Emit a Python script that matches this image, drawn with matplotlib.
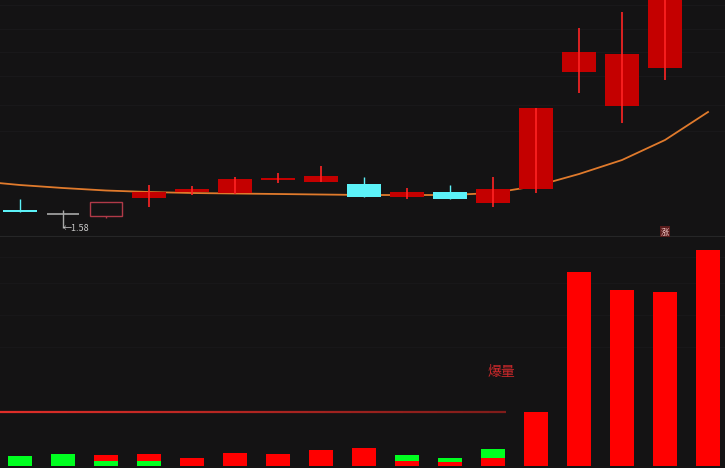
import numpy as np
import matplotlib.pyplot as plt
from matplotlib.collections import LineCollection

plt.rcParams['font.family'] = ['Noto Sans CJK SC', 'DejaVu Sans']

# daily candles (price, yuan)
opens  = [1.615, 1.608, 1.604, 1.640, 1.652, 1.650, 1.676, 1.672, 1.668, 1.642, 1.652, 1.630, 1.658, 1.892, 1.824, 1.900, 2.100]
closes = [1.613, 1.608, 1.632, 1.652, 1.658, 1.678, 1.680, 1.684, 1.642, 1.652, 1.638, 1.658, 1.820, 1.932, 1.928, 2.090, 2.300]
highs  = [1.638, 1.616, 1.632, 1.666, 1.664, 1.682, 1.690, 1.704, 1.682, 1.660, 1.666, 1.682, 1.820, 1.980, 2.012, 2.110, 2.310]
lows   = [1.613, 1.580, 1.600, 1.622, 1.646, 1.648, 1.670, 1.672, 1.642, 1.638, 1.638, 1.622, 1.650, 1.850, 1.790, 1.876, 2.080]
hollow = [2]

# moving average, first value belongs to the day before the window
ma = [1.674, 1.666, 1.660, 1.655, 1.652, 1.650, 1.649, 1.648, 1.647, 1.646, 1.646, 1.646, 1.650,
      1.664, 1.688, 1.716, 1.756, 1.812]

# volume (10k lots), split into red / green parts
vol_red   = [0, 0, 6, 7, 8, 13, 12, 16, 18, 5, 4, 8, 54, 194, 176, 174, 216]
vol_green = [10, 12, 5, 5, 0, 0, 0, 0, 0, 6, 4, 9, 0, 0, 0, 0, 0]
green_below = [True, True, True, True, True, True, True, True, True, False, False, False,
               True, True, True, True, True]
vol_level = 54
low_mark = 1.58

bg = '#141314'
red = '#c40000'
red_hi = '#ff2424'
cyan = '#5cf2f8'
gray = '#a8a8a8'

fig = plt.figure(figsize=(7.25, 4.68), dpi=100, facecolor=bg)
ax1 = fig.add_axes([0, 0.4957, 1, 0.5043])
ax2 = fig.add_axes([0, 0, 1, 0.4936])

for ax in (ax1, ax2):
    ax.set_facecolor(bg)
    ax.set_xlim(-0.465, 16.395)
    ax.set_xticks([])
    for s in ax.spines.values():
        s.set_visible(False)
    ax.tick_params(left=False, labelleft=False)

x = np.arange(len(opens))

# price panel
ax1.set_ylim(1.564, 2.036)
ax1.set_yticks([2.026, 1.978, 1.932, 1.884, 1.826, 1.774])
ax1.grid(axis='y', color='#19181a', lw=0.8)
ax1.spines['bottom'].set_visible(True)
ax1.spines['bottom'].set_color('#262627')

ax1.plot(np.arange(-1, len(opens)), ma, color='#e07a2c', lw=1.3, zorder=2)

for i in x:
    o, c, h, l = opens[i], closes[i], highs[i], lows[i]
    if i in hollow:
        col = '#b03a48'
        ax1.bar(i, c - o, bottom=o, width=0.75, facecolor='none', edgecolor=col, lw=1, zorder=3)
        ax1.vlines(i, l, min(o, c), color=col, lw=1, zorder=3)
        ax1.vlines(i, max(o, c), h, color=col, lw=1, zorder=3)
    elif c > o:
        ax1.bar(i, c - o, bottom=o, width=0.77, color=red, zorder=3)
        ax1.vlines(i, l, h, color=red_hi, lw=1.2, zorder=4)
    elif c < o:
        ax1.bar(i, max(o - c, 0.004), bottom=c, width=0.77, color=cyan, zorder=3)
        ax1.vlines(i, l, h, color=cyan, lw=1, zorder=3)
    else:
        ax1.hlines(o, i - 0.38, i + 0.38, color=gray, lw=1.2, zorder=3)
        ax1.vlines(i, l, h, color=gray, lw=1, zorder=3)

i_low = int(np.argmin(lows))
ax1.text(i_low, low_mark, '←1.58', color='#c8c8c8', fontsize=6.5, ha='left', va='center')
ax1.text(15, 1.572, '涨', color='#f2c6c6', fontsize=6, ha='center', va='center',
         bbox=dict(boxstyle='square,pad=0.15', fc='#5a1c1c', ec='none'))

# volume panel
ax2.set_ylim(-2, 229)
ax2.set_yticks([209, 183, 151, 119])
ax2.grid(axis='y', color='#181719', lw=0.8)

for i in x:
    r, g = vol_red[i], vol_green[i]
    if green_below[i]:
        ax2.bar(i, g, width=0.54, color='#00ff20', zorder=3)
        ax2.bar(i, r, bottom=g, width=0.54, color='#ff0000', zorder=3)
    else:
        ax2.bar(i, r, width=0.54, color='#ff0000', zorder=3)
        ax2.bar(i, g, bottom=r, width=0.54, color='#00ff20', zorder=3)

xs = np.linspace(-0.5, 11.3, 60)
segs = [[(xs[k], vol_level), (xs[k + 1], vol_level)] for k in range(len(xs) - 1)]
t = np.linspace(0, 1, len(segs))
cols = [(0.88 - 0.38 * v, 0.18 - 0.07 * v, 0.16 - 0.06 * v, 1) for v in t]
ax2.add_collection(LineCollection(segs, colors=cols, lw=1.6, zorder=2))

ax2.text(11.19, 94, '爆量', color='#c8282a', fontsize=10, ha='center', va='center')

fig.savefig('out.png', dpi=100, facecolor=bg)
